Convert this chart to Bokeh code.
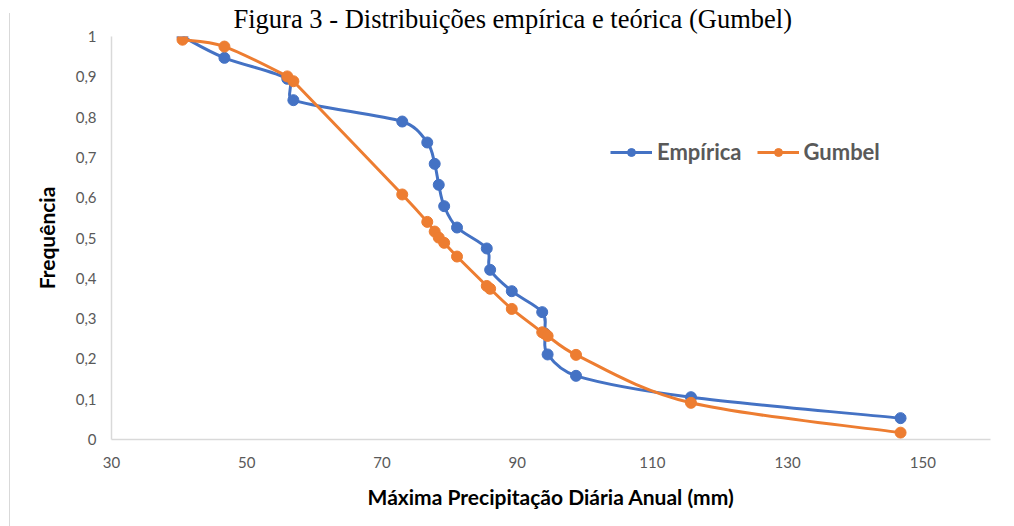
import numpy as np
from bokeh.plotting import figure
from bokeh.models import (Range1d, FixedTicker, Legend, LegendItem)
from bokeh.embed import file_html
from bokeh.resources import INLINE

# ---------------- data ----------------
precip = [40.5, 46.7, 56.0, 56.9, 73.0, 76.7, 77.8, 78.4, 79.2, 81.1,
          85.5, 86.0, 89.2, 93.7, 94.1, 94.5, 98.7, 115.7, 146.7]
freq_empirica = [1.0, 0.947, 0.895, 0.842, 0.789, 0.737, 0.684, 0.632, 0.579, 0.526,
                 0.474, 0.421, 0.368, 0.316, 0.263, 0.211, 0.158, 0.105, 0.053]
freq_gumbel = [0.992, 0.975, 0.901, 0.889, 0.608, 0.540, 0.516, 0.501, 0.488, 0.454,
               0.381, 0.374, 0.324, 0.266, 0.262, 0.257, 0.210, 0.091, 0.017]
series_names = ["Empírica", "Gumbel"]
x_ticks = [30, 50, 70, 90, 110, 130, 150]
y_ticks = [0, 0.1, 0.2, 0.3, 0.4, 0.5, 0.6, 0.7, 0.8, 0.9, 1]
y_tick_labels = ["0", "0,1", "0,2", "0,3", "0,4", "0,5", "0,6", "0,7", "0,8", "0,9", "1"]
title_text = "Figura 3 - Distribuições empírica e teórica (Gumbel)"
x_label = "Máxima Precipitação Diária Anual (mm)"
y_label = "Frequência"

BLUE = "#4472C4"
ORANGE = "#ED7D31"
GRAY_TXT = "#595959"
AXIS_GRAY = "#d9d9d9"

W, H = 1014, 526
FL, FR, FT, FB = 111, 990, 36, 439          # plot frame edges in pixels
X0, X1, Y0, Y1 = 30, 160, 0, 1


def smooth_segments(xs, ys):
    """Bezier segments like Excel's smoothed lines (Catmull-Rom, arms clamped)."""
    sx = (FR - FL) / (X1 - X0)
    sy = (FB - FT) / (Y1 - Y0)
    x = np.asarray(xs, float) * sx
    y = np.asarray(ys, float) * sy
    xp = np.concatenate([[x[0]], x, [x[-1]]])
    yp = np.concatenate([[y[0]], y, [y[-1]]])
    tx = (xp[2:] - xp[:-2]) / 6.0
    ty = (yp[2:] - yp[:-2]) / 6.0
    seg_len = np.hypot(np.diff(x), np.diff(y))
    arm = np.hypot(tx, ty)
    arm = np.where(arm == 0, 1, arm)
    f_out = np.minimum(1.0, 0.45 * seg_len / arm[:-1])
    f_in = np.minimum(1.0, 0.45 * seg_len / arm[1:])
    return dict(
        x0=x[:-1] / sx, y0=y[:-1] / sy, x1=x[1:] / sx, y1=y[1:] / sy,
        cx0=(x[:-1] + tx[:-1] * f_out) / sx, cy0=(y[:-1] + ty[:-1] * f_out) / sy,
        cx1=(x[1:] - tx[1:] * f_in) / sx, cy1=(y[1:] - ty[1:] * f_in) / sy,
    )


p = figure(width=W, height=H, output_backend="svg", toolbar_location=None,
           x_range=Range1d(X0, X1), y_range=Range1d(Y0, Y1),
           min_border_left=FL, min_border_right=W - FR, min_border_top=FT,
           min_border_bottom=H - FB)
p.outline_line_color = None
p.grid.visible = False
p.background_fill_color = "white"
p.border_fill_alpha = 0
# thin light-gray chart-area edge on the left (CSS background of the host)
p.styles = {
    "background-color": "white",
    "background-image": "linear-gradient(#d9d9d9, #d9d9d9)",
    "background-size": "1px 100%",
    "background-position": "9px 13px",
    "background-repeat": "no-repeat",
}

# title
p.title.text = title_text
p.title.align = "left"
p.title.offset = 233 - FL
p.title.text_font = "Liberation Serif"
p.title.text_font_style = "normal"
p.title.text_font_size = "26.5px"
p.title.text_color = "black"
p.title.vertical_align = "top"
p.title.standoff = 2

# axes
xa = p.xaxis[0]
xa.ticker = FixedTicker(ticks=x_ticks)
xa.axis_line_color = AXIS_GRAY
xa.axis_line_width = 1.5
xa.major_tick_line_color = None
xa.minor_tick_line_color = None
xa.major_tick_out = 0
xa.major_tick_in = 0
xa.major_label_standoff = 17
xa.major_label_text_font = "Lato"
xa.major_label_text_font_size = "15px"
xa.major_label_text_color = GRAY_TXT
xa.axis_label = x_label
xa.axis_label_text_font = "Lato"
xa.axis_label_text_font_style = "bold"
xa.axis_label_text_font_size = "21px"
xa.axis_label_text_color = "black"
xa.axis_label_standoff = 13

ya = p.yaxis[0]
ya.ticker = FixedTicker(ticks=y_ticks)
ya.major_label_overrides = dict(zip(y_ticks, y_tick_labels))
ya.axis_line_color = AXIS_GRAY
ya.axis_line_width = 1.5
ya.major_tick_line_color = None
ya.minor_tick_line_color = None
ya.major_tick_out = 0
ya.major_tick_in = 0
ya.major_label_standoff = 15
ya.major_label_text_font = "Lato"
ya.major_label_text_font_size = "15px"
ya.major_label_text_color = GRAY_TXT
ya.axis_label = y_label
ya.axis_label_text_font = "Lato"
ya.axis_label_text_font_style = "bold"
ya.axis_label_text_font_size = "21px"
ya.axis_label_text_color = "black"
ya.axis_label_standoff = 14

# series
legend_items = []
for name, ys, col in [(series_names[0], freq_empirica, BLUE),
                      (series_names[1], freq_gumbel, ORANGE)]:
    seg = smooth_segments(precip, ys)
    p.bezier(line_color=col, line_width=3, **seg)
    sc = p.scatter(precip, ys, size=11, fill_color=col, line_color=col)
    lg_line = p.line([np.nan], [np.nan], line_color=col, line_width=3)
    legend_items.append(LegendItem(label=name, renderers=[lg_line, sc]))

legend = Legend(items=legend_items, location=(499, 274), orientation="horizontal",
                border_line_color=None, background_fill_alpha=0,
                padding=0, margin=0, spacing=15, glyph_width=42, glyph_height=20,
                label_standoff=5, label_text_font="Lato",
                label_text_font_style="bold", label_text_font_size="22px",
                label_text_color=GRAY_TXT)
p.add_layout(legend, "center")

open("out.html", "w").write(file_html(p, INLINE))
